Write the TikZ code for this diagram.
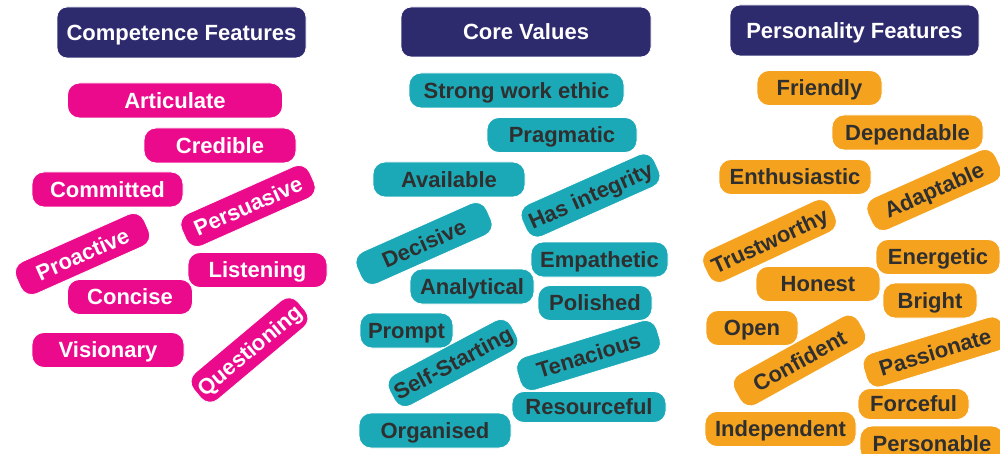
\documentclass[tikz,border=0pt]{standalone}
\usepackage{fontspec}
\setmainfont{Liberation Sans}
\definecolor{headnavy}{HTML}{2E2A6E}
\definecolor{pinkfill}{HTML}{EB0A8C}
\definecolor{tealfill}{HTML}{1CA9B7}
\definecolor{orangefill}{HTML}{F5A21F}
\definecolor{darktext}{HTML}{2F2F2F}
\tikzset{
  pill/.style={rectangle, rounded corners=12pt, draw=white, line width=0.8pt,
    minimum height=35pt, inner sep=0pt, text height=15.8pt, text depth=0pt,
    font=\fontsize{22}{26}\selectfont\bfseries},
  header/.style={pill, rounded corners=10pt, fill=headnavy, text=white, minimum height=51pt},
  pinkpill/.style={pill, fill=pinkfill, text=white},
  tealpill/.style={pill, fill=tealfill, text=darktext},
  orangepill/.style={pill, fill=orangefill, text=darktext}
}

\begin{document}
\begin{tikzpicture}[x=1pt, y=-1pt]
			%%%%% START %%%%%
			\useasboundingbox[fill=white] (0, 0) rectangle (1000, 454);
			
			% competence features
			\node[header, minimum width=249pt] (hcomp) at (181.5, 32.5) {Competence Features};
			\node[pinkpill, minimum width=215pt] (articulate) at (175, 100.5) {Articulate};
			\node[pinkpill, minimum width=152pt] (credible) at (220, 145.5) {Credible};
			\node[pinkpill, minimum width=151pt] (committed) at (107.5, 189.5) {Committed};
			\node[pinkpill, minimum width=140pt, rotate=24] (persuasive) at (248, 206) {Persuasive};
			\node[pinkpill, minimum width=140pt, rotate=24] (proactive) at (82.5, 254) {Proactive};
			\node[pinkpill, minimum width=139pt] (listening) at (257.5, 270) {Listening};
			\node[pinkpill, minimum width=125pt] (concise) at (130, 297) {Concise};
			\node[pinkpill, minimum width=152pt] (visionary) at (108, 350) {Visionary};
			\node[pinkpill, minimum width=136pt, rotate=40] (questioning) at (249.5, 350) {Questioning};
			
			% core values
			\node[header, minimum width=250pt, minimum height=50pt] (hcore) at (526, 32) {Core Values};
			\node[tealpill, minimum width=215pt] (strongwork) at (516.5, 90.5) {Strong work ethic};
			\node[tealpill, minimum width=150pt] (pragmatic) at (562, 135) {Pragmatic};
			\node[tealpill, minimum width=152pt] (available) at (449, 179.5) {Available};
			\node[tealpill, minimum width=145pt, rotate=24] (integrity) at (590.5, 195.5) {Has integrity};
			\node[tealpill, minimum width=142pt, rotate=24] (decisive) at (424, 243.5) {Decisive};
			\node[tealpill, minimum width=137pt] (empathetic) at (599.5, 259.5) {Empathetic};
			\node[tealpill, minimum width=124pt] (analytical) at (472, 286.5) {Analytical};
			\node[tealpill, minimum width=114pt] (polished) at (595, 303) {Polished};
			\node[tealpill, minimum width=93pt] (prompt) at (406.5, 330.5) {Prompt};
			\node[tealpill, minimum width=138pt, rotate=28] (selfstarting) at (453, 363) {Self-Starting};
			\node[tealpill, minimum width=146pt, rotate=17] (tenacious) at (588.5, 355.5) {Tenacious};
			\node[tealpill, minimum width=154pt, minimum height=31pt] (resourceful) at (589, 407) {Resourceful};
			\node[tealpill, minimum width=152pt] (organised) at (435, 430.5) {Organised};
			
			% personality features
			\node[header, minimum width=249pt] (hpers) at (854.5, 30.5) {Personality Features};
			\node[orangepill, minimum width=125pt] (friendly) at (819.5, 88) {Friendly};
			\node[orangepill, minimum width=151pt] (dependable) at (907.5, 132.5) {Dependable};
			\node[orangepill, minimum width=152pt] (enthusiastic) at (795, 177) {Enthusiastic};
			\node[orangepill, minimum width=140pt, rotate=24] (adaptable) at (934, 190) {Adaptable};
			\node[orangepill, minimum width=140pt, rotate=25] (trustworthy) at (769.5, 241) {Trustworthy};
			\node[orangepill, minimum width=124pt] (energetic) at (938, 257) {Energetic};
			\node[orangepill, minimum width=124pt] (honest) at (818, 284) {Honest};
			\node[orangepill, minimum width=94pt] (bright) at (930, 300.5) {Bright};
			\node[orangepill, minimum width=92pt] (open) at (752, 328) {Open};
			\node[orangepill, minimum width=142pt, rotate=29] (confident) at (799.5, 360.5) {Confident};
			\node[orangepill, minimum width=146pt, rotate=17] (passionate) at (935, 352) {Passionate};
			\node[orangepill, minimum width=111pt, minimum height=31pt] (forceful) at (913.5, 404) {Forceful};
			\node[orangepill, minimum width=151pt] (independent) at (780.5, 429) {Independent};
			\node[orangepill, minimum width=144pt] (personable) at (932, 443.5) {Personable};
			
			%%%%% END %%%%%
\end{tikzpicture}
\end{document}
